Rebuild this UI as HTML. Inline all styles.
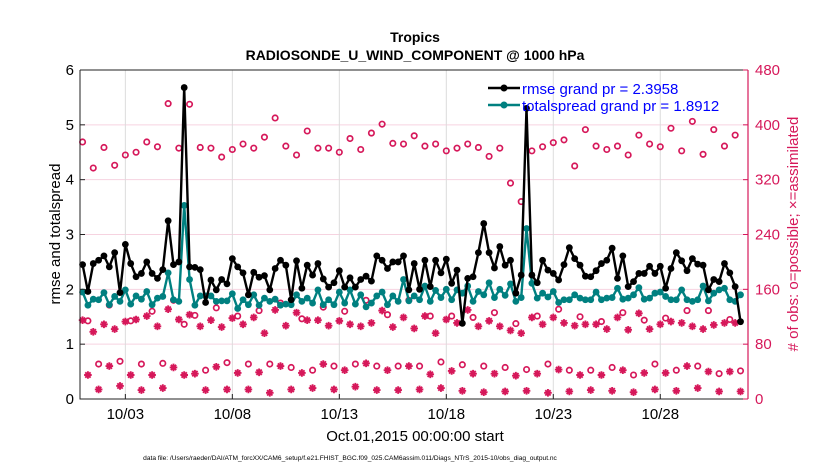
<!DOCTYPE html>
<html><head><meta charset="utf-8"><style>
body{margin:0;background:#fff;}
svg{display:block;font-family:"Liberation Sans",sans-serif;}
</style></head><body>
<svg id="chart" width="830" height="470">
<rect x="0" y="0" width="830" height="470" fill="#fff"/>
<text x="415" y="42" text-anchor="middle" font-size="14" font-weight="bold">Tropics</text>
<text x="415" y="60" text-anchor="middle" font-size="14" font-weight="bold">RADIOSONDE_U_WIND_COMPONENT @ 1000 hPa</text>
<g id="grid"></g>
<g id="series"></g>
<g id="axes"></g>
<text x="415" y="441" text-anchor="middle" font-size="15">Oct.01,2015 00:00:00 start</text>
<text transform="translate(60,234) rotate(-90)" text-anchor="middle" font-size="15">rmse and totalspread</text>
<text transform="translate(798,234) rotate(-90)" text-anchor="middle" font-size="15" fill="#d6185a"># of obs: o=possible; ×=assimilated</text>
<text x="350" y="460" text-anchor="middle" font-size="6.6">data file: /Users/raeder/DAI/ATM_forcXX/CAM6_setup/f.e21.FHIST_BGC.f09_025.CAM6assim.011/Diags_NTrS_2015-10/obs_diag_output.nc</text>
<g id="legend">
<line x1="488" y1="88" x2="520" y2="88" stroke="#000" stroke-width="2.5"/>
<circle cx="504" cy="88" r="3.5" fill="#000"/>
<text x="522" y="94" font-size="15" fill="#0000ff">rmse grand pr = 2.3958</text>
<line x1="488" y1="105" x2="520" y2="105" stroke="#008080" stroke-width="2.5"/>
<circle cx="504" cy="105" r="3.5" fill="#008080"/>
<text x="522" y="111" font-size="15" fill="#0000ff">totalspread grand pr = 1.8912</text>
</g>
</svg>
<script>
const rmse=[2.45,1.96,2.47,2.53,2.61,2.41,2.67,1.94,2.82,2.47,2.23,2.29,2.50,2.29,2.20,2.36,3.25,2.45,2.50,5.68,2.41,2.40,2.36,1.76,2.17,1.99,2.18,2.10,2.56,2.41,2.30,1.90,
2.31,2.22,2.25,1.99,2.38,2.53,2.44,1.81,2.52,2.02,2.44,2.26,2.47,2.19,2.04,2.12,2.34,2.04,2.21,2.04,2.18,2.24,2.15,2.61,2.53,2.38,2.50,2.50,2.61,1.99,
2.47,2.00,2.53,2.05,2.53,2.30,2.55,2.11,2.35,1.38,2.20,2.23,2.67,3.20,2.67,2.39,2.78,2.44,2.53,1.93,2.26,5.30,2.26,2.12,2.53,2.35,2.29,2.17,2.45,2.76,
2.56,2.44,2.24,2.23,2.34,2.47,2.53,2.75,2.20,2.61,2.05,2.14,2.29,2.29,2.42,2.29,2.42,2.02,2.38,2.67,2.52,2.34,2.56,2.46,2.44,1.99,2.18,2.14,2.47,2.30,2.05,1.41];
const totalspread=[1.95,1.71,1.82,1.81,1.94,1.72,1.87,1.78,1.99,1.73,1.88,1.82,1.96,1.72,1.84,1.87,2.30,1.81,1.78,3.53,2.18,1.71,1.88,1.88,1.88,1.78,1.79,1.79,1.92,1.65,1.81,1.72,
1.90,1.71,1.84,1.78,1.82,1.71,1.73,1.72,1.90,1.78,1.84,1.75,1.99,1.72,1.81,1.72,1.95,1.75,1.99,1.73,1.90,1.68,1.75,1.88,1.95,1.72,1.88,1.78,2.18,1.79,
1.88,1.81,2.06,1.78,1.98,1.85,2.00,1.81,1.99,1.93,2.06,1.78,1.96,1.90,2.12,1.85,2.00,1.89,2.10,1.78,1.85,3.11,2.11,1.84,1.93,1.86,1.96,1.76,1.81,1.81,
1.90,1.84,1.81,1.81,1.95,1.81,1.84,1.85,2.02,1.82,1.84,1.90,2.03,1.82,1.84,1.93,1.95,1.87,1.81,1.81,1.99,1.81,1.78,1.81,2.06,1.79,1.93,1.99,2.02,1.81,1.78,1.90];
// possible obs at even steps (00Z/12Z) and odd steps (06Z/18Z)
const possibleEven=[375,337,367,341,356,360,375,368,431,366,430,367,366,353,364,372,
366,382,410,369,356,391,366,366,360,380,364,388,401,373,372,
384,369,372,362,366,372,367,354,366,315,288,362,368,374,378,
340,393,369,364,369,356,385,372,368,395,362,405,357,393,369,385];
const possibleOdd=[114,51,137,55,114,51,128,52,144,109,122,42,133,53,121,51,
129,51,140,46,117,42,134,48,128,51,144,48,123,48,144,
48,121,54,121,50,119,48,126,46,110,43,121,51,131,42,
120,42,113,46,126,35,115,51,118,42,129,48,129,37,116,41];
const assimEven=[115,98,109,102,113,116,121,106,131,116,123,106,115,105,118,109,
119,96,130,107,126,115,115,107,114,109,106,111,129,105,119,
103,121,96,116,111,130,106,114,106,100,96,119,109,119,111,
107,109,109,102,119,101,125,102,109,113,111,106,102,108,111,111];
const assimOdd=[35,14,48,19,35,13,35,16,46,35,37,13,47,14,38,14,
39,9,48,14,38,16,51,14,42,18,52,13,42,13,48,
14,36,16,41,12,37,10,37,11,34,12,37,9,43,11,
35,13,35,12,42,10,38,14,38,12,48,16,40,11,40,11];
const leftTicks=[0,1,2,3,4,5,6];
const rightTicks=[0,80,160,240,320,400,480];
const dateTickDays=[2,7,12,17,22,27];
const dateTickLabels=["10/03","10/08","10/13","10/18","10/23","10/28"];

const NS="http://www.w3.org/2000/svg";
const L=80,R=748,T=70,B=399;
const dayMin=-0.12,dayMax=31.1;
const xs=d=>L+(d-dayMin)/(dayMax-dayMin)*(R-L);
const yl=v=>B-v/6*(B-T);
const yr=v=>B-v/480*(B-T);
const RED="#d6185a";
function mk(tag,attrs,parent){const e=document.createElementNS(NS,tag);for(const k in attrs)e.setAttribute(k,attrs[k]);parent.appendChild(e);return e;}
const grid=document.getElementById('grid'),series=document.getElementById('series'),axes=document.getElementById('axes');

function merge(ev,od){const out=[];for(let i=0;i<ev.length+od.length;i++){out.push(i%2===0?ev[i/2]:od[(i-1)/2]);}return out;}
const possible=merge(possibleEven,possibleOdd);
const assim=merge(assimEven,assimOdd);
const stepDay=i=>i/4;

leftTicks.forEach(v=>{if(v>0&&v<6){const g=mk('line',{x1:L,x2:R,y1:yl(v),y2:yl(v),stroke:"#f6d3e0","stroke-width":1},grid);

}});
dateTickDays.forEach(d=>{const g=mk('line',{x1:xs(d),x2:xs(d),y1:T,y2:B,stroke:"#dcdcdc","stroke-width":1},grid);

});

possible.forEach((v,i)=>{const c=mk('circle',{cx:xs(stepDay(i)),cy:yr(v),r:2.7,fill:"none",stroke:RED,"stroke-width":1.7},series);

});
assim.forEach((v,i)=>{const x=xs(stepDay(i)),y=yr(v),s=3.8;
const p=mk('path',{d:`M${x-s},${y}H${x+s}M${x},${y-s}V${y+s}M${x-s*0.7},${y-s*0.7}L${x+s*0.7},${y+s*0.7}M${x-s*0.7},${y+s*0.7}L${x+s*0.7},${y-s*0.7}`,stroke:RED,"stroke-width":1.9,fill:"none"},series);

});

function lineSeries(vals,color,name){
 const pts=vals.map((v,i)=>xs(stepDay(i)).toFixed(1)+","+yl(v).toFixed(1)).join(" ");
 const pl=mk('polyline',{points:pts,fill:"none",stroke:color,"stroke-width":2.4,"stroke-linejoin":"round"},series);
 
 
 vals.forEach((v,i)=>{const c=mk('circle',{cx:xs(stepDay(i)),cy:yl(v),r:3.4,fill:color},series);
 
 });
}
lineSeries(totalspread,"#008080","totalspread");
lineSeries(rmse,"#000000","rmse");

const fr=mk('path',{d:`M${L},${T}H${R}M${L},${T}V${B}H${R}`,stroke:"#222","stroke-width":1,fill:"none"},axes);


const ra=mk('line',{x1:R,x2:R,y1:T,y2:B,stroke:RED,"stroke-width":1.2},axes);


leftTicks.forEach(v=>{mk('line',{x1:L,x2:L+5,y1:yl(v),y2:yl(v),stroke:"#222"},axes);
const t=mk('text',{x:L-6,y:yl(v)+5,"text-anchor":"end","font-size":15},axes);t.textContent=v;

});
rightTicks.forEach(v=>{mk('line',{x1:R-5,x2:R,y1:yr(v),y2:yr(v),stroke:RED},axes);
const t=mk('text',{x:R+7,y:yr(v)+5,"font-size":15,fill:RED},axes);t.textContent=v;

});
dateTickDays.forEach((d,k)=>{mk('line',{x1:xs(d),x2:xs(d),y1:B,y2:B-5,stroke:"#222"},axes);
const t=mk('text',{x:xs(d),y:B+20,"text-anchor":"middle","font-size":15},axes);t.textContent=dateTickLabels[k];

});
</script>
</body></html>
